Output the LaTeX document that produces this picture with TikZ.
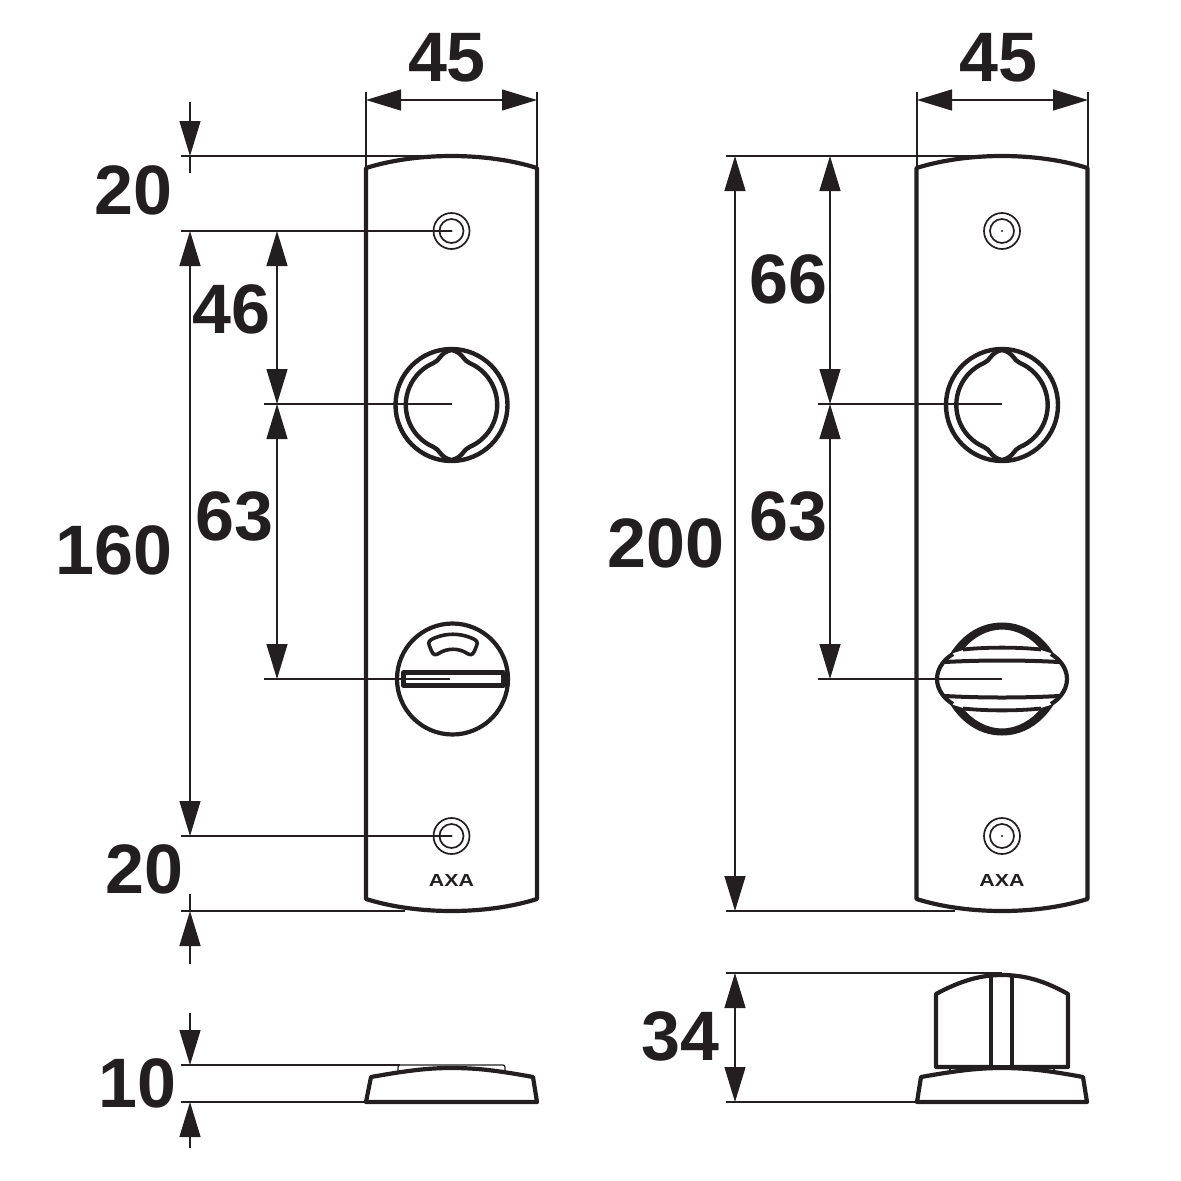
\documentclass[tikz,border=0pt]{standalone}
\usepackage{fontspec}
\setmainfont{Liberation Sans}
\newfontfamily\axafont[FakeStretch=1.22]{Liberation Sans}
\usetikzlibrary{arrows.meta}
\definecolor{ink}{HTML}{231F20}
\tikzset{
    outline/.style={ink, line width=4.2pt, line join=round},
    leader/.style={ink, line width=1.3pt},
    dimarrow/.style={leader, {Triangle[length=35pt,width=21pt]}-{Triangle[length=35pt,width=21pt]}},
    oneway/.style={leader, -{Triangle[length=35pt,width=21pt]}},
    size/.style={ink, font=\fontsize{70}{70}\selectfont\bfseries, inner sep=0pt},
    screw/.pic={
        \draw[ink, line width=1.7pt] (0,0) circle (18) (0,0) circle (12);
        \fill[ink] (0,0) circle (1.2);
    },
    plate/.pic={
        \draw[outline] (-85.5,12) .. controls (-60,4) and (-30,0) .. (0,0)
            .. controls (30,0) and (60,4) .. (85.5,12) -- (85.5,743)
            .. controls (60,751) and (30,755) .. (0,755)
            .. controls (-30,755) and (-60,751) .. (-85.5,743) -- cycle;
        \node[ink, font=\axafont\fontsize{17.5}{17.5}\selectfont\bfseries, inner sep=0pt] (axa) at (0,724) {AXA};
    },
    rosette/.pic={
        \draw[ink, line width=4.4pt] (0,0) circle (56);
        \draw[ink, line width=4.4pt] (18,-42) arc[start angle=66.8, end angle=-66.8, radius=45.7pt]
            .. controls (12,44) and (11,53) .. (0,55)
            .. controls (-11,53) and (-12,44) .. (-18,42)
            arc[start angle=246.8, end angle=113.2, radius=45.7pt]
            .. controls (-12,-44) and (-11,-53) .. (0,-55)
            .. controls (11,-53) and (12,-44) .. (18,-42) -- cycle;
    },
    turnplate/.pic={
        \draw[outline] (0,0) circle (55.5);
        \draw[outline] (-49,-6.5) rectangle (51,6.5);
        \draw[ink, line width=3.6pt] (-18,-41) .. controls (-6,-46) and (7,-46) .. (19,-41)
            .. controls (24,-39) and (26,-37) .. (24,-33) -- (22,-28)
            .. controls (20,-23) and (17,-24) .. (14,-26)
            .. controls (6,-31) and (-5,-31) .. (-13,-26)
            .. controls (-16,-24) and (-19,-23) .. (-21,-28) -- (-23,-33)
            .. controls (-25,-37) and (-23,-39) .. (-18,-41) -- cycle;
    },
    thumbturn/.pic={
        \foreach \s in {1,-1} {
            \begin{scope}[yscale=\s]
                \fill[ink] (-52,-25) .. controls (-39,-46) and (-20,-56.5) .. (0,-56.5)
                    .. controls (20,-56.5) and (39,-46) .. (52,-25) -- (39,-29)
                    .. controls (30,-41) and (15,-49.5) .. (0,-49.5)
                    .. controls (-15,-49.5) and (-30,-41) .. (-39,-29) -- cycle;
                \draw[ink, line width=3.8pt] (-39,-29.5) .. controls (-15,-32) and (15,-32) .. (39,-29.5);
                \draw[ink, line width=4pt] (-57,-17) .. controls (-20,-19) and (20,-19) .. (57,-17);
            \end{scope}
        }
        \draw[outline] (-49,-25) .. controls (-56,-21) and (-65,-12) .. (-65,0)
            .. controls (-65,12) and (-56,21) .. (-49,25);
        \draw[outline] (49,-25) .. controls (56,-21) and (65,-12) .. (65,0)
            .. controls (65,12) and (56,21) .. (49,25);
    },
}

\begin{document}
\begin{tikzpicture}[x=1pt, y=-1pt]
    \useasboundingbox (0,0) rectangle (1181,1181);

    % Left plate, key side
    \pic at (451.5,156) {plate};
    \pic at (451.5,231) {screw};
    \pic at (451.5,836) {screw};
    \pic at (451.5,405) {rosette};
    \pic at (452.5,679) {turnplate};

    % Right plate, thumb side
    \pic at (1002,156) {plate};
    \pic at (1002,231) {screw};
    \pic at (1002,836) {screw};
    \pic at (1002,405) {rosette};
    \pic at (1002,679) {thumbturn};

    % Left profile
    \draw[outline] (366,1102) -- (371,1077) .. controls (410,1070) and (430,1068) .. (451.5,1068)
        .. controls (475,1068) and (495,1070) .. (533,1077) -- (537,1102) -- cycle;
    \draw[leader, rounded corners=2pt] (398,1071) -- (398,1065) -- (505,1065) -- (505,1071);

    % Right profile
    \draw[outline] (917,1102) -- (921,1077) .. controls (960,1070) and (980,1068) .. (1002,1068)
        .. controls (1025,1068) and (1045,1070) .. (1083,1077) -- (1087,1102) -- cycle;
    \draw[outline] (991,1067) -- (936,1067) -- (936,994)
        .. controls (960,981) and (980,975) .. (1002,975)
        .. controls (1025,975) and (1045,981) .. (1068,994) -- (1068,1067) -- (1012,1067);
    \draw[outline] (991,976) -- (991,1068) (1012,976) -- (1012,1068) (991,1067) -- (1012,1067);
    \draw[ink, line width=2pt] (950,1067) -- (950,1072) (1054,1067) -- (1054,1072);

    % Left dimensions
    \coordinate (lw) at (366,100);
    \coordinate (le) at (537,100);
    \coordinate (ltop) at (190,156);
    \coordinate (lhigh) at (190,231);
    \coordinate (llow) at (190,836);
    \coordinate (lbot) at (190,911);
    \coordinate (lmidhigh) at (277,231);
    \coordinate (lmidkey) at (277,404);
    \coordinate (lmidturn) at (277,679);
    \coordinate (lthintop) at (190,1065);
    \coordinate (lthinbot) at (190,1102);

    \draw[dimarrow] (lw) -- (le);
    \draw[leader] (366,92) -- (366,170) (537,92) -- (537,170);
    \draw[leader] (181,156) -- (452,156) (181,231) -- (451.5,231) (264,404) -- (451.5,404);
    \draw[leader] (264,679) -- (450,679) (181,836) -- (451.5,836) (181,911) -- (405,911);
    \draw[leader] (181,1065) -- (400,1065) (181,1102) -- (366,1102);
    \draw[oneway] (190,102) -- (ltop);
    \draw[leader] (ltop) -- (190,173);
    \draw[dimarrow] (lhigh) -- (llow);
    \draw[oneway] (190,964) -- (lbot);
    \draw[leader] (lbot) -- (190,894);
    \draw[dimarrow] (lmidhigh) -- (lmidkey);
    \draw[dimarrow] (lmidkey) -- (lmidturn);
    \draw[oneway] (190,1013) -- (lthintop);
    \draw[oneway] (190,1148) -- (lthinbot);

    % Right dimensions
    \coordinate (rw) at (917,100);
    \coordinate (re) at (1088,100);
    \coordinate (rtop) at (735,156);
    \coordinate (rbot) at (735,911);
    \coordinate (rmidtop) at (830,156);
    \coordinate (rmidkey) at (830,404);
    \coordinate (rmidturn) at (830,679);
    \coordinate (rtall) at (735,973);
    \coordinate (rbase) at (735,1102);

    \draw[dimarrow] (rw) -- (re);
    \draw[leader] (917,92) -- (917,170) (1088,92) -- (1088,170);
    \draw[leader] (726,156) -- (1002,156) (726,911) -- (955,911);
    \draw[leader] (818,404) -- (1002,404) (818,679) -- (1002,679);
    \draw[leader] (726,973) -- (1002,973) (726,1102) -- (917,1102);
    \draw[dimarrow] (rtop) -- (rbot);
    \draw[dimarrow] (rmidtop) -- (rmidkey);
    \draw[dimarrow] (rmidkey) -- (rmidturn);
    \draw[dimarrow] (rtall) -- (rbase);

    % Sizes
    \node[size] (wleft) at (447,58) {45};
    \node[size] (wright) at (998,58) {45};
    \node[size] (ltopsize) at (133.5,190) {20};
    \node[size] (lfirst) at (231.5,309) {46};
    \node[size] (lsecond) at (234.5,516) {63};
    \node[size] (lspan) at (114,550) {160};
    \node[size] (lbotsize) at (144.5,869) {20};
    \node[size] (lthin) at (137.5,1083) {10};
    \node[size] (rfirst) at (788.5,279) {66};
    \node[size] (rsecond) at (788.5,516) {63};
    \node[size] (rspan) at (666,543) {200};
    \node[size] (rthick) at (680.5,1036) {34};
\end{tikzpicture}
\end{document}
